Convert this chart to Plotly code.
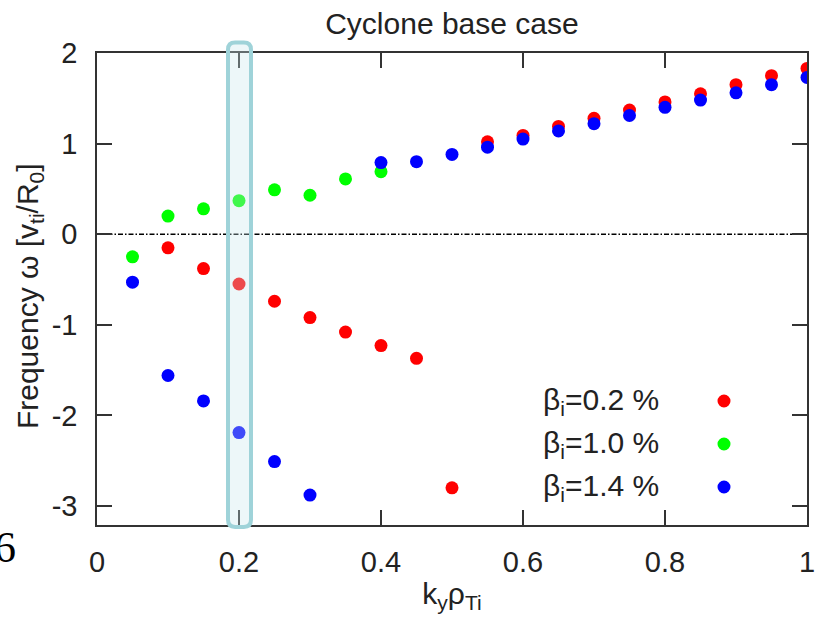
import plotly.graph_objects as go

# wavenumber scan k_y rho_Ti
ky = [0.05, 0.10, 0.15, 0.20, 0.25, 0.30, 0.35, 0.40, 0.45, 0.50,
      0.55, 0.60, 0.65, 0.70, 0.75, 0.80, 0.85, 0.90, 0.95, 1.00]

# real frequency omega [v_ti/R_0] for each beta_i (None = no mode found)
omega_b02 = [None, -0.15, -0.38, -0.55, -0.74, -0.92, -1.08, -1.23, -1.37, -2.80,
             1.02, 1.09, 1.19, 1.28, 1.37, 1.46, 1.55, 1.65, 1.75, 1.83]
omega_b10 = [-0.25, 0.20, 0.28, 0.37, 0.49, 0.43, 0.61, 0.69, None, None,
             None, None, None, None, None, None, None, None, None, None]
omega_b14 = [-0.53, -1.56, -1.84, -2.19, -2.51, -2.88, None, 0.79, 0.80, 0.88,
             0.96, 1.05, 1.14, 1.22, 1.31, 1.40, 1.48, 1.56, 1.65, 1.73]

series_labels = ["β<sub>i</sub>=0.2 %", "β<sub>i</sub>=1.0 %", "β<sub>i</sub>=1.4 %"]
series_colors = ["#ff0000", "#00ff00", "#0000ff"]
series_values = [omega_b02, omega_b10, omega_b14]

x_ticks = [0, 0.2, 0.4, 0.6, 0.8, 1.0]
x_ticktext = ["0", "0.2", "0.4", "0.6", "0.8", "1"]
y_ticks = [-3, -2, -1, 0, 1, 2]
y_ticktext = ["-3", "-2", "-1", "0", "1", "2"]

FONT = "Liberation Sans, Arial, sans-serif"
AX = "#333333"
TXT = "#222222"

fig = go.Figure()
for name, col, vals in zip(series_labels, series_colors, series_values):
    fig.add_trace(go.Scatter(
        x=ky, y=vals, mode="markers", name=name,
        marker=dict(size=13, color=col, line=dict(width=0)),
        showlegend=False,
    ))

# dash-dot zero line
fig.add_shape(type="line", xref="x", yref="y", x0=0, x1=1, y0=0, y1=0,
              line=dict(color="#000000", width=1.6, dash="5px,2px,1.5px,2px"), layer="below")

# highlighted column at k_y rho_Ti = 0.2 (rounded rectangle)
hx0, hx1 = 0.1845, 0.2169
hy0, hy1 = -0.004, 1.022
rx, ry = 0.010, 0.015
path = (f"M {hx0+rx},{hy0} L {hx1-rx},{hy0} Q {hx1},{hy0} {hx1},{hy0+ry} "
        f"L {hx1},{hy1-ry} Q {hx1},{hy1} {hx1-rx},{hy1} "
        f"L {hx0+rx},{hy1} Q {hx0},{hy1} {hx0},{hy1-ry} "
        f"L {hx0},{hy0+ry} Q {hx0},{hy0} {hx0+rx},{hy0} Z")
fig.add_shape(type="path", xref="x", yref="paper", path=path,
              fillcolor="rgba(200,230,235,0.32)",
              line=dict(color="#9fd3d9", width=4), layer="above")

# key: label text with a coloured dot to its right
key_y = [0.2627, 0.1716, 0.0805]
for lab, col, yy in zip(series_labels, series_colors, key_y):
    fig.add_annotation(xref="paper", yref="paper", x=0.6255, y=yy,
                       xanchor="left", yanchor="middle", text=lab, showarrow=False,
                       font=dict(family=FONT, size=30, color=TXT))
    fig.add_shape(type="circle", xref="paper", yref="paper",
                  xsizemode="pixel", ysizemode="pixel",
                  xanchor=0.8831, yanchor=yy, x0=-6.5, x1=6.5, y0=-6.5, y1=6.5,
                  fillcolor=col, line=dict(width=0))

# y-axis title, placed explicitly
fig.add_annotation(xref="paper", yref="paper", x=-0.0958, y=0.485,
                   xanchor="center", yanchor="middle", textangle=-90,
                   text="Frequency ω [v<sub>ti</sub>/R<sub>0</sub>]", showarrow=False,
                   font=dict(family=FONT, size=30, color=TXT))

# page number fragment at the left edge
fig.add_annotation(xref="paper", yref="paper", x=-0.111, y=-0.048,
                   xanchor="right", yanchor="middle", text="6", showarrow=False,
                   font=dict(family="Liberation Serif, Times New Roman, serif", size=44, color="black"))

axis_common = dict(
    showline=True, linecolor=AX, linewidth=1.5, mirror="ticks",
    ticks="inside", ticklen=15, tickwidth=1.5, tickcolor=AX,
    showgrid=False, zeroline=False,
    tickfont=dict(family=FONT, size=29, color=TXT),
)

fig.update_layout(
    width=830, height=617,
    margin=dict(l=97, r=23, t=53, b=92),
    paper_bgcolor="white", plot_bgcolor="white",
    title=dict(text="Cyclone base case", x=0.5445, xanchor="center",
               y=0.962, yanchor="middle",
               font=dict(family=FONT, size=30, color=TXT)),
    xaxis=dict(range=[0, 1], tickvals=x_ticks, ticktext=x_ticktext,
               ticklabelstandoff=10,
               title=dict(text="k<sub>y</sub>ρ<sub>Ti</sub>", standoff=6,
                          font=dict(family=FONT, size=30, color=TXT)),
               **axis_common),
    yaxis=dict(range=[-3.21, 2], tickvals=y_ticks, ticktext=y_ticktext,
               ticklabelstandoff=12, **axis_common),
)

fig.write_html("out.html")
